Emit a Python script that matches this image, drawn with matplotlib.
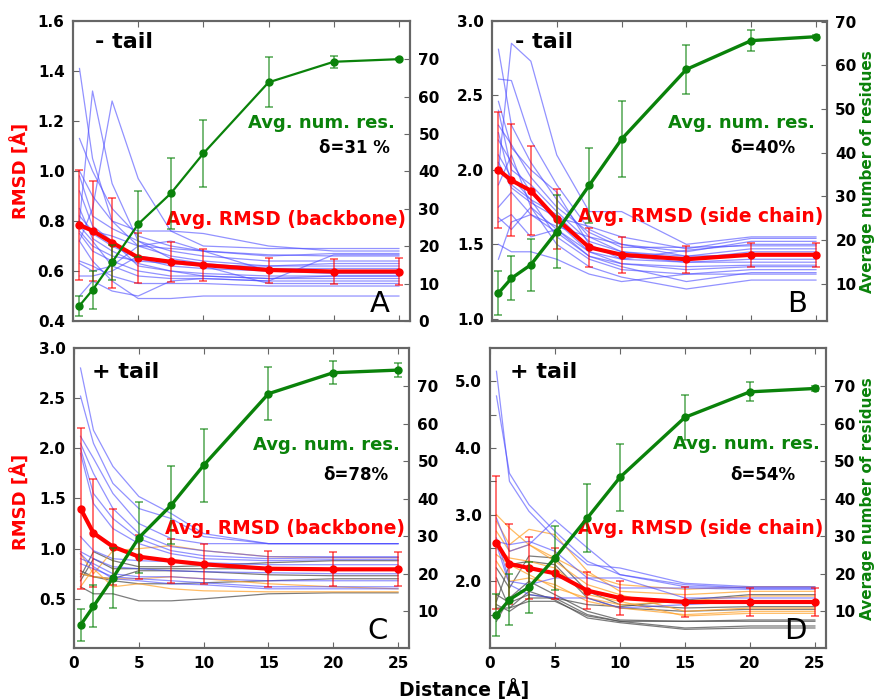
import matplotlib
matplotlib.use("Agg")
import matplotlib.pyplot as plt
import numpy as np

# ---------------- data ----------------
distance = [0.5, 1.5, 3, 5, 7.5, 10, 15, 20, 25]
x_ticks = [0, 5, 10, 15, 20, 25]

# Panel A  (- tail, backbone)
a_rmsd = [0.784, 0.761, 0.714, 0.654, 0.637, 0.624, 0.604, 0.598, 0.598]
a_rmsd_err = [0.22, 0.20, 0.18, 0.10, 0.08, 0.065, 0.05, 0.05, 0.055]
a_nres = [4.1, 8.3, 15.7, 25.9, 34.1, 44.8, 63.8, 69.3, 70.0]
a_nres_err = [2.7, 5.0, 4.7, 8.8, 9.5, 8.9, 6.7, 1.6, 0.3]
a_blue = [
    [1.41, 1.05, 0.80, 0.70, 0.66, 0.64, 0.62, 0.62, 0.62],
    [0.80, 1.32, 0.95, 0.72, 0.68, 0.66, 0.64, 0.64, 0.64],
    [0.72, 0.85, 1.28, 0.97, 0.76, 0.70, 0.69, 0.69, 0.69],
    [1.13, 1.00, 0.85, 0.74, 0.70, 0.68, 0.66, 0.67, 0.67],
    [1.00, 0.90, 0.80, 0.76, 0.76, 0.75, 0.70, 0.68, 0.68],
    [0.98, 0.82, 0.77, 0.72, 0.65, 0.63, 0.61, 0.61, 0.61],
    [0.92, 0.78, 0.72, 0.62, 0.60, 0.59, 0.58, 0.58, 0.58],
    [0.80, 0.75, 0.70, 0.65, 0.62, 0.61, 0.60, 0.60, 0.60],
    [0.78, 0.72, 0.62, 0.58, 0.57, 0.57, 0.56, 0.56, 0.56],
    [0.76, 0.70, 0.66, 0.64, 0.63, 0.62, 0.62, 0.63, 0.63],
    [0.75, 0.68, 0.64, 0.60, 0.58, 0.58, 0.57, 0.57, 0.57],
    [0.72, 0.64, 0.56, 0.49, 0.49, 0.50, 0.50, 0.50, 0.50],
    [0.64, 0.62, 0.58, 0.55, 0.55, 0.55, 0.54, 0.54, 0.54],
    [0.63, 0.60, 0.62, 0.70, 0.72, 0.68, 0.60, 0.59, 0.59],
    [0.58, 0.58, 0.60, 0.66, 0.64, 0.62, 0.55, 0.55, 0.55],
    [0.50, 0.56, 0.52, 0.50, 0.56, 0.57, 0.56, 0.665, 0.665],
    [0.82, 0.76, 0.74, 0.70, 0.69, 0.68, 0.665, 0.66, 0.66],
    [0.85, 0.73, 0.68, 0.63, 0.60, 0.58, 0.57, 0.58, 0.58],
]

# Panel B  (- tail, side chain)
b_rmsd = [2.00, 1.93, 1.86, 1.67, 1.48, 1.43, 1.40, 1.43, 1.43]
b_rmsd_err = [0.39, 0.375, 0.30, 0.20, 0.13, 0.12, 0.09, 0.08, 0.08]
b_nres = [7.8, 11.2, 14.3, 21.9, 32.5, 43.1, 59.1, 65.7, 66.6]
b_nres_err = [5.0, 5.0, 6.0, 8.4, 8.6, 8.7, 5.7, 2.4, 0.3]
b_blue = [
    [2.81, 2.30, 2.05, 1.80, 1.55, 1.45, 1.40, 1.45, 1.45],
    [2.00, 2.85, 2.73, 2.10, 1.72, 1.72, 1.50, 1.55, 1.55],
    [2.61, 2.60, 2.20, 1.90, 1.60, 1.50, 1.45, 1.52, 1.52],
    [2.46, 2.15, 2.00, 1.85, 1.50, 1.40, 1.38, 1.38, 1.38],
    [2.30, 2.17, 1.95, 1.75, 1.58, 1.48, 1.48, 1.49, 1.49],
    [2.20, 2.05, 1.85, 1.65, 1.45, 1.37, 1.33, 1.35, 1.35],
    [2.10, 1.95, 1.80, 1.55, 1.40, 1.33, 1.30, 1.33, 1.33],
    [1.90, 2.10, 1.75, 1.60, 1.42, 1.35, 1.25, 1.31, 1.31],
    [1.68, 1.60, 1.75, 1.50, 1.35, 1.28, 1.20, 1.26, 1.26],
    [1.50, 1.45, 1.45, 1.40, 1.30, 1.25, 1.30, 1.30, 1.30],
    [1.40, 1.65, 1.70, 1.62, 1.55, 1.50, 1.42, 1.43, 1.43],
    [1.65, 1.70, 1.55, 1.60, 1.45, 1.40, 1.46, 1.50, 1.50],
    [2.25, 1.90, 1.80, 1.70, 1.48, 1.42, 1.38, 1.40, 1.40],
    [2.40, 2.00, 1.90, 1.72, 1.52, 1.45, 1.42, 1.47, 1.47],
    [1.75, 1.85, 1.70, 1.58, 1.42, 1.37, 1.35, 1.36, 1.36],
    [2.05, 1.88, 1.78, 1.68, 1.62, 1.55, 1.47, 1.54, 1.54],
]

# Panel C  (+ tail, backbone)
c_rmsd = [1.40, 1.155, 1.02, 0.92, 0.878, 0.844, 0.80, 0.794, 0.794]
c_rmsd_err = [0.80, 0.54, 0.38, 0.22, 0.22, 0.20, 0.18, 0.17, 0.17]
c_nres = [6.3, 11.3, 18.9, 29.6, 38.3, 48.9, 68.0, 73.6, 74.3]
c_nres_err = [4.2, 5.6, 8.0, 9.4, 10.4, 9.7, 7.1, 3.0, 1.8]
c_blue = [
    [2.80, 2.18, 1.82, 1.52, 1.35, 1.15, 1.05, 1.05, 1.05],
    [2.52, 2.05, 1.65, 1.40, 1.30, 1.12, 1.05, 1.05, 1.05],
    [2.12, 1.90, 1.55, 1.25, 1.10, 1.05, 1.05, 1.05, 1.05],
    [2.05, 1.75, 1.40, 1.15, 1.02, 0.98, 0.92, 0.92, 0.92],
    [2.00, 1.55, 1.30, 1.10, 0.98, 0.93, 0.90, 0.91, 0.91],
    [1.95, 1.45, 1.20, 1.05, 0.95, 0.90, 0.88, 0.89, 0.89],
    [1.12, 0.98, 0.90, 0.88, 0.87, 0.86, 0.84, 0.84, 0.84],
    [0.97, 0.90, 0.82, 0.80, 0.78, 0.77, 0.76, 0.75, 0.75],
    [0.90, 0.85, 0.75, 0.72, 0.72, 0.70, 0.68, 0.68, 0.68],
    [0.85, 0.80, 0.72, 0.70, 0.68, 0.66, 0.62, 0.62, 0.62],
    [0.95, 0.82, 0.70, 0.68, 0.65, 0.64, 0.60, 0.60, 0.60],
]
c_orange = [
    [0.95, 0.75, 0.98, 1.00, 1.03, 0.98, 0.92, 0.91, 0.91],
    [0.62, 0.80, 0.62, 0.65, 0.60, 0.58, 0.57, 0.57, 0.57],
    [0.75, 0.72, 0.70, 0.70, 0.72, 0.70, 0.65, 0.62, 0.60],
]
c_gray = [
    [0.72, 0.97, 0.88, 0.82, 0.82, 0.83, 0.86, 0.88, 0.88],
    [0.68, 0.90, 0.80, 0.80, 0.80, 0.80, 0.80, 0.80, 0.80],
    [0.78, 0.72, 0.70, 0.78, 0.78, 0.77, 0.74, 0.73, 0.73],
    [0.62, 0.55, 0.55, 0.48, 0.48, 0.50, 0.55, 0.56, 0.56],
    [0.75, 0.72, 0.68, 0.65, 0.65, 0.66, 0.68, 0.70, 0.70],
]

# Panel D  (+ tail, side chain)
d_rmsd = [2.58, 2.26, 2.20, 2.12, 1.86, 1.75, 1.69, 1.69, 1.69]
d_rmsd_err = [1.00, 0.60, 0.46, 0.38, 0.28, 0.26, 0.22, 0.21, 0.21]
d_nres = [9.0, 13.1, 16.4, 24.2, 34.9, 45.7, 61.7, 68.5, 69.4]
d_nres_err = [5.6, 6.8, 6.8, 8.6, 9.0, 8.9, 6.0, 2.5, 0.6]
d_blue = [
    [4.78, 3.62, 3.15, 2.75, 2.30, 2.10, 1.95, 1.90, 1.90],
    [5.15, 3.50, 3.05, 2.65, 2.25, 2.20, 1.97, 1.92, 1.92],
    [2.95, 2.45, 2.55, 2.92, 2.50, 2.10, 1.92, 1.90, 1.90],
    [2.60, 2.55, 2.60, 2.45, 2.05, 2.05, 1.75, 1.75, 1.75],
    [2.65, 2.00, 1.95, 2.05, 2.05, 1.90, 1.90, 1.88, 1.88],
    [2.55, 1.95, 1.80, 1.75, 1.75, 1.60, 1.65, 1.70, 1.70],
]
d_orange = [
    [3.00, 2.80, 2.55, 2.35, 2.10, 1.95, 1.88, 1.92, 1.92],
    [2.90, 2.55, 2.78, 2.70, 2.15, 1.85, 1.80, 1.85, 1.85],
    [2.75, 2.45, 2.55, 2.30, 1.95, 1.80, 1.55, 1.60, 1.60],
    [2.50, 2.35, 2.30, 2.20, 1.80, 1.70, 1.48, 1.52, 1.52],
    [2.30, 2.00, 2.05, 1.95, 1.70, 1.60, 1.50, 1.55, 1.55],
    [2.40, 2.25, 2.10, 1.90, 1.75, 1.65, 1.70, 1.78, 1.78],
]
d_gray = [
    [2.20, 1.90, 2.38, 2.35, 1.85, 1.65, 1.60, 1.62, 1.62],
    [1.70, 2.25, 2.30, 2.25, 1.75, 1.60, 1.55, 1.58, 1.58],
    [1.40, 1.75, 2.00, 1.80, 1.55, 1.42, 1.40, 1.40, 1.40],
    [1.65, 1.55, 1.75, 1.75, 1.50, 1.40, 1.30, 1.33, 1.33],
    [1.60, 1.60, 1.85, 1.72, 1.45, 1.38, 1.28, 1.30, 1.30],
    [1.80, 1.68, 1.80, 1.75, 1.65, 1.62, 1.72, 1.80, 1.80],
    [2.05, 1.60, 1.70, 1.70, 1.48, 1.40, 1.40, 1.42, 1.42],
]

# ---------------- drawing ----------------
plt.rcParams['font.family'] = ['DejaVu Sans']
GREEN = '#0a820a'
RED = '#ff0000'
BLUE = '#4a4aff'
ORANGE = '#ffa530'
GRAY = '#505050'
SPINE = '#666666'

fig = plt.figure(figsize=(8.74, 7.0), dpi=100)

panels = [
    dict(pos=[0.0835, 0.5414, 0.3856, 0.4286], rmsd=a_rmsd, rerr=a_rmsd_err, nres=a_nres, nerr=a_nres_err,
         blue=a_blue, orange=[], gray=[], ylim=(0.4, 1.6), yticks=[0.4, 0.6, 0.8, 1.0, 1.2, 1.4, 1.6],
         ylabels=None, rylim=(0, 80.2), ryticks=[0, 10, 20, 30, 40, 50, 60, 70],
         tail='- tail', delta='δ=31 %', rlabel='Avg. RMSD (backbone)', letter='A', glw=1.6,
         tailpos=(0.065, 0.93), numpos=(0.955, 0.66), dpos=(0.94, 0.577), rpos=(0.987, 0.337), lpos=(0.94, 0.01),
         xlabels=False),
    dict(pos=[0.5629, 0.5414, 0.3833, 0.4286], rmsd=b_rmsd, rerr=b_rmsd_err, nres=b_nres, nerr=b_nres_err,
         blue=b_blue, orange=[], gray=[], ylim=(0.985, 3.0), yticks=[1.0, 1.5, 2.0, 2.5, 3.0],
         ylabels=None, rylim=(1.4, 70.2), ryticks=[10, 20, 30, 40, 50, 60, 70],
         tail='- tail', delta='δ=40%', rlabel='Avg. RMSD (side chain)', letter='B', glw=2.4,
         tailpos=(0.069, 0.93), numpos=(0.964, 0.66), dpos=(0.905, 0.577), rpos=(0.99, 0.347), lpos=(0.94, 0.01),
         xlabels=False),
    dict(pos=[0.0847, 0.0743, 0.3833, 0.4286], rmsd=c_rmsd, rerr=c_rmsd_err, nres=c_nres, nerr=c_nres_err,
         blue=c_blue, orange=c_orange, gray=c_gray, ylim=(0.01, 3.0), yticks=[0.5, 1.0, 1.5, 2.0, 2.5, 3.0],
         ylabels=None, rylim=(0.2, 80.2), ryticks=[10, 20, 30, 40, 50, 60, 70],
         tail='+ tail', delta='δ=78%', rlabel='Avg. RMSD (backbone)', letter='C', glw=2.4,
         tailpos=(0.054, 0.92), numpos=(0.973, 0.677), dpos=(0.937, 0.577), rpos=(0.988, 0.397), lpos=(0.937, 0.01),
         xlabels=True),
    dict(pos=[0.5606, 0.0743, 0.3844, 0.4286], rmsd=d_rmsd, rerr=d_rmsd_err, nres=d_nres, nerr=d_nres_err,
         blue=d_blue, orange=d_orange, gray=d_gray, ylim=(1.0, 5.5), yticks=[1.5, 2.0, 2.5, 3.0, 3.5, 4.0, 4.5, 5.0],
         ylabels=['', '2.0', '', '3.0', '', '4.0', '', '5.0'], rylim=(0.2, 80.2), ryticks=[10, 20, 30, 40, 50, 60, 70],
         tail='+ tail', delta='δ=54%', rlabel='Avg. RMSD (side chain)', letter='D', glw=2.4,
         tailpos=(0.06, 0.92), numpos=(0.982, 0.68), dpos=(0.908, 0.577), rpos=(0.991, 0.397), lpos=(0.943, 0.01),
         xlabels=True),
]

for p in panels:
    ax = fig.add_axes(p['pos'])
    for line in p['gray']:
        ax.plot(distance, line, color=GRAY, lw=0.9, alpha=0.75, zorder=2)
    for line in p['orange']:
        ax.plot(distance, line, color=ORANGE, lw=0.9, alpha=0.75, zorder=2)
    for line in p['blue']:
        ax.plot(distance, line, color=BLUE, lw=0.9, alpha=0.6, zorder=2)
    ax.errorbar(distance, p['rmsd'], yerr=p['rerr'], color=RED, lw=3.0, marker='o', ms=5,
                ecolor=(1, 0, 0, 0.7), elinewidth=1.1, capsize=3, capthick=1.1, zorder=5)
    ax.set_xlim(0, 25.85)
    ax.set_ylim(*p['ylim'])
    ax.set_xticks(x_ticks)
    ax.set_yticks(p['yticks'])
    if p['ylabels'] is not None:
        ax.set_yticklabels(p['ylabels'])
    if not p['xlabels']:
        ax.set_xticklabels([])
    ax.tick_params(direction='in', top=True, right=False, length=4, color=SPINE, labelsize=11, pad=6)
    for lab in ax.get_xticklabels() + ax.get_yticklabels():
        lab.set_fontweight('bold')
    for s in ax.spines.values():
        s.set_color(SPINE)
        s.set_linewidth(1.5)

    ax2 = ax.twinx()
    ax2.errorbar(distance, p['nres'], yerr=p['nerr'], color=GREEN, lw=p['glw'], marker='o', ms=5,
                 ecolor=(0.04, 0.51, 0.04, 0.7), elinewidth=1.1, capsize=3, capthick=1.1, zorder=6)
    ax2.set_ylim(*p['rylim'])
    ax2.set_yticks(p['ryticks'])
    ax2.tick_params(direction='in', length=4, color=SPINE, labelsize=11, pad=6)
    for lab in ax2.get_yticklabels():
        lab.set_fontweight('bold')
    for s in ax2.spines.values():
        s.set_color(SPINE)
        s.set_linewidth(1.5)

    ax2.text(*p['tailpos'], p['tail'], transform=ax.transAxes, fontsize=16, fontweight='bold',
             color='black', ha='left', va='center')
    ax2.text(*p['numpos'], 'Avg. num. res.', transform=ax.transAxes, fontsize=13, fontweight='bold',
             color=GREEN, ha='right', va='center')
    ax2.text(*p['dpos'], p['delta'], transform=ax.transAxes, fontsize=12, fontweight='bold',
             color='black', ha='right', va='center')
    ax2.text(*p['rpos'], p['rlabel'], transform=ax.transAxes, fontsize=13.4, fontweight='bold',
             color=RED, ha='right', va='center')
    ax2.text(*p['lpos'], p['letter'], transform=ax.transAxes, fontsize=21,
             color='black', ha='right', va='bottom')

fig.text(0.024, 0.756, 'RMSD [Å]', rotation=90, color=RED, fontsize=13, fontweight='bold',
         ha='center', va='center')
fig.text(0.024, 0.283, 'RMSD [Å]', rotation=90, color=RED, fontsize=13, fontweight='bold',
         ha='center', va='center')
fig.text(0.993, 0.755, 'Average number of residues', rotation=90, color=GREEN, fontsize=11,
         fontweight='bold', ha='center', va='center')
fig.text(0.993, 0.288, 'Average number of residues', rotation=90, color=GREEN, fontsize=11,
         fontweight='bold', ha='center', va='center')
fig.text(0.531, 0.0143, 'Distance [Å]', color='black', fontsize=13.5, fontweight='bold',
         ha='center', va='center')

fig.savefig('out.png', dpi=100)
